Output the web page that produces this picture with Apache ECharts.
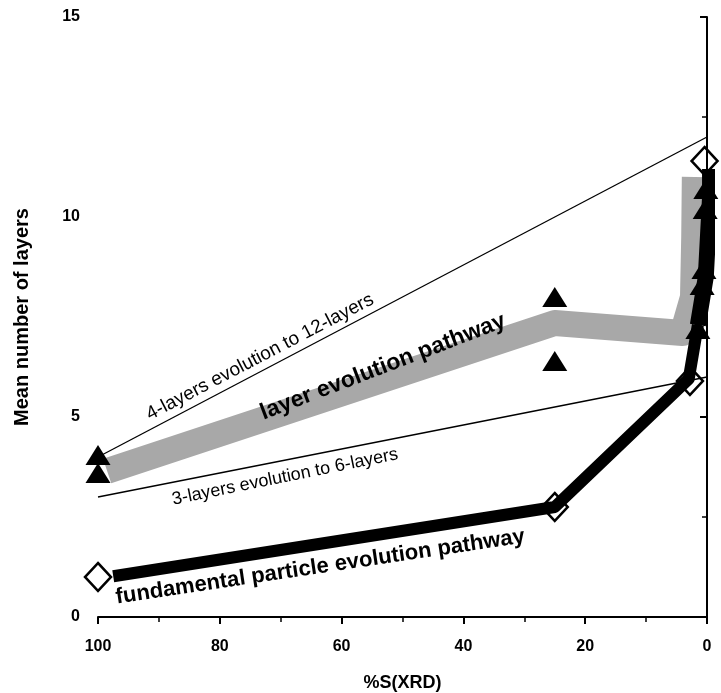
<!DOCTYPE html>
<html lang="en">
<head>
    <meta charset="UTF-8">
    <title>Mean number of layers</title>
    <script src="https://cdn.jsdelivr.net/npm/echarts@6/dist/echarts.min.js"></script>
</head>
<body style="margin:0;background:#fff;">
<div id="main" style="width:721px;height:693px;"></div>
<script type="text/javascript">
    // reference lines
    var line4to12 = [[100, 4], [0, 12]];
    var line3to6 = [[100, 3], [0, 6]];
    // grey band: layer evolution pathway
    var layerPath = [[98.5, 3.65], [25, 7.35], [4, 7.1], [2.3, 8.0], [2.1, 9.5], [2, 11.0]];
    // black band: fundamental particle evolution pathway
    var fundPath = [[97.5, 1.02], [25, 2.75], [3, 5.95], [1.5, 7.3]];
    var fundPathUp = [[1.5, 7.3], [0.2, 8.5], [-0.5, 10.5], [-0.5, 11.2]];
    // measured points
    var triangles = [[100, 4.05], [100, 3.6], [25, 8.0], [25, 6.4], [1.5, 7.2], [0.8, 8.3], [0.5, 8.7], [0.3, 10.2], [0.2, 10.7]];
    var diamonds = [[100, 1], [25, 2.75], [2.8, 5.9], [0.4, 11.4]];

    var labelFont = 'Liberation Sans';

    var dom = document.getElementById("main");
    var myChart = echarts.init(dom);
    var option = {
        animation: false,
        backgroundColor: '#fff',
        grid: {left: 98, right: 14, top: 17, bottom: 76, containLabel: false, outerBoundsMode: 'none'},
        xAxis: {
            type: 'value', inverse: true, min: 0, max: 100, interval: 20,
            name: '%S(XRD)', nameLocation: 'middle', nameGap: 57,
            nameTextStyle: {fontFamily: labelFont, fontWeight: 'bold', fontSize: 18, color: '#000'},
            axisLine: {onZero: false, lineStyle: {color: '#000', width: 2}},
            axisTick: {length: 7, lineStyle: {color: '#000', width: 2}},
            minorTick: {show: true, splitNumber: 2, length: 5, lineStyle: {color: '#000', width: 1.5}},
            axisLabel: {margin: 22, fontFamily: labelFont, fontWeight: 'bold', fontSize: 16, color: '#000'},
            splitLine: {show: false}
        },
        yAxis: {
            type: 'value', min: 0, max: 15, interval: 5,
            name: 'Mean number of layers', nameLocation: 'middle', nameGap: 66,
            nameTextStyle: {fontFamily: labelFont, fontWeight: 'bold', fontSize: 20, color: '#000'},
            axisLine: {show: true, lineStyle: {color: '#000', width: 2}},
            axisTick: {show: true, length: 7, lineStyle: {color: '#000', width: 2}},
            minorTick: {show: true, splitNumber: 2, length: 5, lineStyle: {color: '#000', width: 1.5}},
            axisLabel: {margin: 18, fontFamily: labelFont, fontWeight: 'bold', fontSize: 16, color: '#000'},
            splitLine: {show: false}
        },
        series: [
            {type: 'line', data: line4to12, symbol: 'none', lineStyle: {color: '#000', width: 1.3}, z: 2},
            {type: 'line', data: line3to6, symbol: 'none', lineStyle: {color: '#000', width: 1.3}, z: 2},
            {type: 'line', data: layerPath, symbol: 'none', lineStyle: {color: '#a8a8a8', width: 26, join: 'round'}, z: 3},
            {type: 'line', data: fundPath, symbol: 'none', lineStyle: {color: '#000', width: 12, join: 'round'}, z: 4},
            {type: 'line', data: fundPathUp, symbol: 'none', lineStyle: {color: '#000', width: 16, join: 'round'}, z: 4},
            {type: 'scatter', data: triangles, symbol: 'triangle', symbolSize: [25, 20],
                itemStyle: {color: '#000', opacity: 1}, z: 5},
            {type: 'scatter', data: diamonds, symbol: 'diamond', symbolSize: [26, 28],
                itemStyle: {color: 'rgba(255,255,255,0)', borderColor: '#000', borderWidth: 2.5, opacity: 1}, z: 6}
        ]
    };
    myChart.setOption(option);

    // rotated text annotations placed in data coordinates
    var notes = [
        {text: '4-layers evolution to 12-layers', at: [73.4, 6.5], angle: 27.5, size: 19, weight: 'normal'},
        {text: '3-layers evolution to 6-layers', at: [69.3, 3.5], angle: 11.5, size: 18, weight: 'normal'},
        {text: 'layer evolution pathway', at: [53.2, 6.25], angle: 21, size: 23, weight: 'bold'},
        {text: 'fundamental particle evolution pathway', at: [63.5, 1.25], angle: 8.5, size: 22, weight: 'bold'}
    ];
    var graphics = notes.map(function (n) {
        var p = myChart.convertToPixel({gridIndex: 0}, n.at);
        return {
            type: 'text', x: p[0], y: p[1], rotation: n.angle * Math.PI / 180, z: 10,
            style: {text: n.text, fill: '#000', fontFamily: labelFont, fontSize: n.size,
                fontWeight: n.weight, align: 'center', verticalAlign: 'middle'}
        };
    });
    myChart.setOption({graphic: graphics});
</script>
</body>
</html>
